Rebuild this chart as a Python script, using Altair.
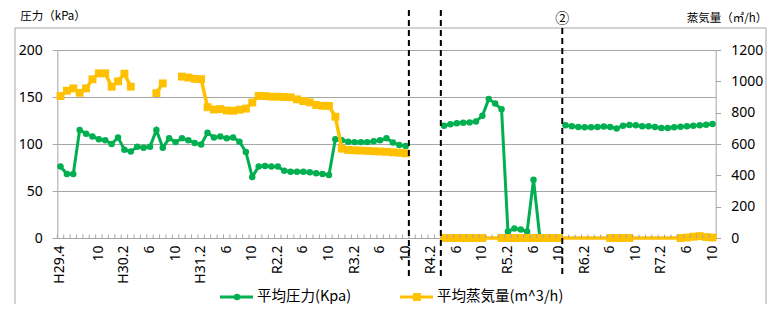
import json
import altair as alt
import pandas as pd

# ---------------- data ----------------
# monthly categories H29.4 (2017-04) ... R7.10 (2025-10)
N = 103
NA = "#N/A"   # Excel #N/A: no point, line connects across

tick_labels = []
for i in range(N):
    yr = 2017 + (i + 3) // 12
    mo = (i + 3) % 12 + 1
    if i == 0:
        tick_labels.append("H29.4")
    elif i < 6:
        tick_labels.append("")
    elif mo == 2:
        era = f"H{yr - 1988}" if yr <= 2019 else f"R{yr - 2018}"
        tick_labels.append(f"{era}.2")
    elif mo in (6, 10):
        tick_labels.append(str(mo))
    else:
        tick_labels.append("")

pressure = [
    76, 68, 68, 115, 111, 108, 105, 104, 100, 107, 94, 92,
    97, 96, 97, 115, 96, 106, 102, 106, 104, 101, 99.5,
    112, 107, 108, 106, 107, 102.5, 91.5, 65, 76, 76.5, 76, 76,
    71.5, 70.5, 70.5, 70.5, 70, 69, 68, 67,
    105, 104, 102.5, 102, 102, 102, 103, 104, 106, 101.5, 99, 98,
    None, None, None, None, None,
    119.5, 121, 122, 122.5, 123, 124, 130, 148, 143, 137, 7, 10, 9, 7, 62, 0,
    None, None, None,
    120, 119, 118, 117.7, 117.7, 118, 118.6, 118, 116.5, 119.5, 120.2, 120,
    119, 118.8, 118, 117, 117, 117.7, 118.4, 119, 119.5, 120, 120.6, 121.3,
]

steam = [
    906, 940, 955, 927, 955, 1013, 1051, 1051, 966, 1000, 1049, 966,
    None, None, None, 925, 987, None, None,
    1030, 1024, 1016, 1014, 835, 820, 823, 814, 812, 819, 826, 865, 907, 906,
    902, 902, 900, 898, 885, 874, 866, 849, 844, 843, 774, 570, 562, 560, 558,
    556, 554, 552, 550, 547, 544, 541,
    None, None, None, None, None,
    0, 0, 0, 0, 0, 0, 0, NA, NA,
    0, 0, 0, 0, 0, 0, 0, 0, 0, 0,
    NA, NA, NA, NA, NA, NA, NA,
    0, 0, 0, 0,
    NA, NA, NA, NA, NA, NA, NA,
    0, 3, 8, 12, 6, 3,
]

series_names = ["平均圧力(Kpa)", "平均蒸気量(m^3/h)"]
divider_after = [54, 59, 78]
divider_marks = ["", "", "②"]

assert len(tick_labels) == N and len(pressure) == N and len(steam) == N


def rows(vals, name):
    out, seg = [], 0
    for i, v in enumerate(vals):
        if v is None:
            seg += 1
            continue
        if v == NA:
            continue
        out.append({"i": i, "v": v, "seg": seg, "series": name})
    return pd.DataFrame(out)


df_p = rows(pressure, series_names[0])
df_s = rows(steam, series_names[1])
df_ticks = pd.DataFrame({"i": list(range(N))})
df_div = pd.DataFrame({"i": divider_after, "mark": divider_marks})

# ---------------- style ----------------
GREEN = "#00B050"
YELLOW = "#FFC000"
GRAY = "#a6a6a6"
FONT = "Noto Sans"
JFONT = "Noto Sans CJK JP"
W, H = 658.4, 188

xscale = alt.Scale(domain=list(range(N)), paddingInner=0, paddingOuter=0)
xaxis = alt.Axis(
    title=None, labelExpr=f"{json.dumps(tick_labels)}[datum.value]",
    labelAngle=270, labelAlign="right", labelBaseline="middle",
    labelOverlap=False, ticks=False, labelPadding=7, domainColor=GRAY,
    domainWidth=1, grid=False, labelFont=FONT, labelFontSize=14,
    labelColor="#000000",
)


def X(**kw):
    return alt.X("i:O", scale=xscale, axis=xaxis, **kw)


left_axis = alt.Axis(
    title=None, values=[0, 50, 100, 150, 200], grid=True, gridColor=GRAY,
    gridWidth=1, domainColor=GRAY, tickColor=GRAY, tickSize=5, format="d",
    labelPadding=10, labelFont=FONT, labelFontSize=14, labelColor="#000000",
)
right_axis = alt.Axis(
    title=None, orient="right", values=list(range(0, 1201, 200)), grid=False,
    domainColor=GRAY, tickColor=GRAY, tickSize=5, labelPadding=10, format="d",
    labelFont=FONT, labelFontSize=14, labelColor="#000000",
)

yl = alt.Y("v:Q", scale=alt.Scale(domain=[0, 200], nice=False), axis=left_axis)
yr = alt.Y("v:Q", scale=alt.Scale(domain=[0, 1200], nice=False), axis=right_axis)

green = alt.layer(
    alt.Chart(df_p).mark_line(color=GREEN, strokeWidth=3).encode(x=X(), y=yl, detail="seg:N"),
    alt.Chart(df_p).mark_point(color=GREEN, filled=True, shape="circle", size=42, opacity=1).encode(x=X(), y=yl),
)
yellow = alt.layer(
    alt.Chart(df_s).mark_line(color=YELLOW, strokeWidth=3.5).encode(x=X(), y=yr, detail="seg:N"),
    alt.Chart(df_s).mark_point(color=YELLOW, filled=True, shape="square", size=62, opacity=1).encode(x=X(), y=yr),
)

one = pd.DataFrame({"k": [0]})

border = alt.Chart(one).mark_rect(fillOpacity=0, stroke=GRAY, strokeWidth=1).encode(
    x=alt.value(-42.3), x2=alt.value(708.7), y=alt.value(-22), y2=alt.value(320))

xticks = alt.Chart(df_ticks).mark_rule(color=GRAY, strokeWidth=1).encode(
    x=X(bandPosition=0), y=alt.value(H), y2=alt.value(H - 3.5))

div_a = alt.Chart(df_div).transform_filter("datum.mark == ''").mark_rule(
    color="#000000", strokeWidth=2, strokeDash=[6, 4]).encode(
    x=X(bandPosition=1), y=alt.value(-50), y2=alt.value(230))
div_b = alt.Chart(df_div).transform_filter("datum.mark != ''").mark_rule(
    color="#000000", strokeWidth=2, strokeDash=[6, 4]).encode(
    x=X(bandPosition=1), y=alt.value(-22), y2=alt.value(225))
div_t = alt.Chart(df_div).transform_filter("datum.mark != ''").mark_text(
    font=JFONT, fontSize=14, color="#000000", baseline="middle").encode(
    x=X(bandPosition=1), y=alt.value(-31), text="mark:N")

title_l = alt.Chart(pd.DataFrame({"t": ["圧力（kPa）"]})).mark_text(
    font=JFONT, fontSize=11.5, align="left", baseline="middle", color="#000000").encode(
    text="t:N", x=alt.value(-37), y=alt.value(-33))
title_r = alt.Chart(pd.DataFrame({"t": ["蒸気量（㎥/h）"]})).mark_text(
    font=JFONT, fontSize=11.5, align="right", baseline="middle", color="#000000").encode(
    text="t:N", x=alt.value(710), y=alt.value(-31))

legend_layers = []
for name, color, shape, size, x0 in [
    (series_names[0], GREEN, "circle", 42, 162.7),
    (series_names[1], YELLOW, "square", 62, 342.7),
]:
    d = pd.DataFrame({"name": [name]})
    legend_layers += [
        alt.Chart(d).mark_rule(color=color, strokeWidth=3).encode(
            x=alt.value(x0), x2=alt.value(x0 + 33), y=alt.value(247)),
        alt.Chart(d).mark_point(color=color, filled=True, shape=shape, size=size, opacity=1).encode(
            x=alt.value(x0 + 17), y=alt.value(247)),
        alt.Chart(d).mark_text(font=JFONT, fontSize=14.5, align="left", baseline="middle", color="#000000").encode(
            text="name:N", x=alt.value(x0 + 37), y=alt.value(246.5)),
    ]

chart = alt.layer(
    border, green, yellow, xticks, div_a, div_b, div_t, title_l, title_r, *legend_layers
).resolve_scale(y="independent").properties(
    width=W, height=H,
    padding={"left": 49.3, "top": 42, "right": 54.3, "bottom": 66},
    autosize=alt.AutoSizeParams(type="none"),
).configure_view(stroke=None)

chart.save("out.html", embed_options={"renderer": "svg", "actions": False})
